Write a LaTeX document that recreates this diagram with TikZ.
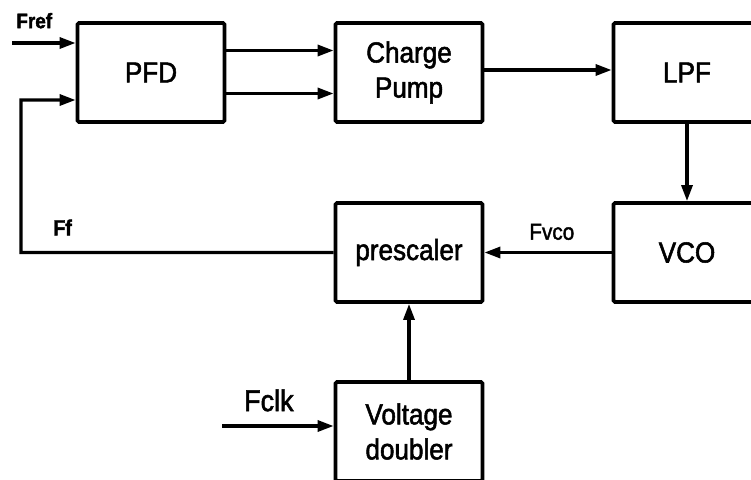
\documentclass[tikz,border=0pt]{standalone}
\usepackage{fontspec}
\setmainfont{Liberation Sans}[FakeStretch=0.9, FakeBold=1.8]
\usetikzlibrary{arrows.meta,positioning}
\begin{document}
\begin{tikzpicture}[
        x=1pt, y=-1pt,
        bloque/.style={draw, line width=3.8pt, rounded corners=1.5pt, align=center, minimum width=147pt, minimum height=99pt, inner sep=0pt, font=\fontsize{29}{35}\selectfont},
        etiq/.style={font=\fontsize{22}{26}\selectfont, inner sep=1pt},
        flecha/.style={-{Triangle[length=16pt, width=11pt]}, line width=3.2pt}
    ]
        \useasboundingbox (0,0) rectangle (751,479);
        \clip (0,0) rectangle (751,479);
        \node[bloque] (pfd) at (151,72.5) {PFD};
        \node[bloque, right=107.2pt of pfd] (cp) {Charge\\Pump};
        \node[bloque, right=127.2pt of cp] (lpf) {LPF};
        \node[bloque, below=77.2pt of lpf] (vco) {VCO};
        \node[bloque, left=127.2pt of vco] (presc) {prescaler};
        \node[bloque, below=76.2pt of presc] (vd) {Voltage\\doubler};

        \coordinate (fref) at (12,43);
        \coordinate (fb) at (21,252.5);
        \coordinate (fclk) at (222,426);

        \draw[flecha] (fref) -- node[etiq, pos=0.35, above=12pt, font=\fontsize{21}{25}\selectfont] {\textbf{Fref}} (fref -| pfd.west);
        \draw[flecha] (presc.west) -- node[etiq, pos=0.867, above=14.5pt] {\textbf{Ff}} (fb) |- ([yshift=-27.5pt]pfd.west);
        \draw[flecha] ([yshift=22pt]pfd.east) -- ([yshift=22pt]cp.west);
        \draw[flecha] ([yshift=-21pt]pfd.east) -- ([yshift=-21pt]cp.west);
        \draw[flecha] ([yshift=2.5pt]cp.east) -- ([yshift=2.5pt]lpf.west);
        \draw[flecha] (lpf) -- (vco);
        \draw[flecha] (vco) -- node[etiq, pos=0.47, above=10pt, font=\fontsize{23}{27}\selectfont] {Fvco} (presc);
        \draw[flecha] (vd) -- (presc);
        \draw[flecha] (fclk) -- node[etiq, pos=0.42, above=12pt, font=\fontsize{30}{36}\selectfont] {Fclk} (fclk -| vd.west);
    \end{tikzpicture}
\end{document}
